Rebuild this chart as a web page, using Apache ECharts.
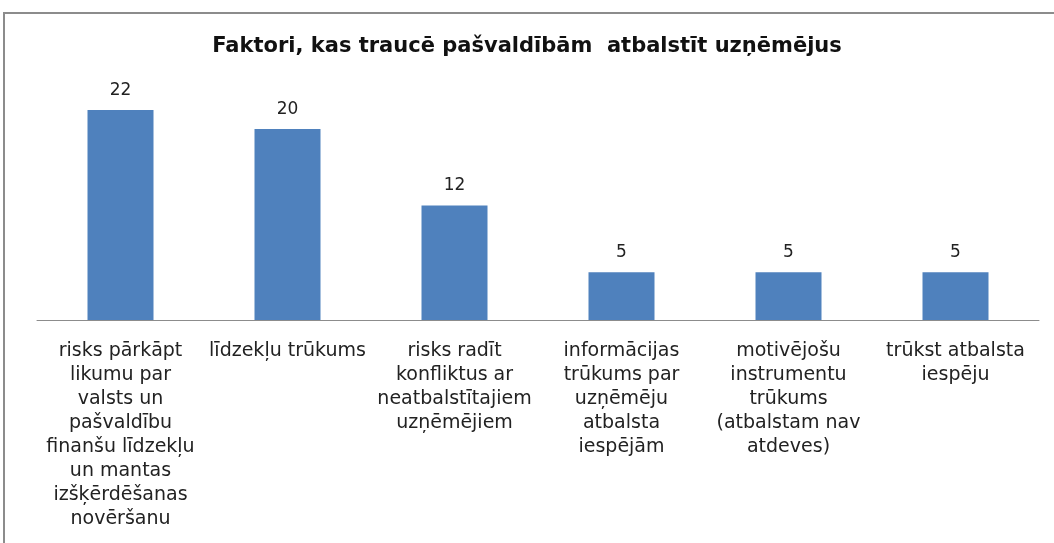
<!DOCTYPE html>
<html>
<head>
<meta charset="utf-8">
<script src="https://cdn.jsdelivr.net/npm/echarts@6/dist/echarts.min.js"></script>
<style>
  html, body { margin: 0; padding: 0; background: #fff; }
  #chart { width: 1054px; height: 543px; }
</style>
</head>
<body>
<div id="chart"></div>
<script>
const titleText = 'Faktori, kas traucē pašvaldībām  atbalstīt uzņēmējus'
const categories = [
    'risks pārkāpt\nlikumu par\nvalsts un\npašvaldību\nfinanšu līdzekļu\nun mantas\nizšķērdēšanas\nnovēršanu',
    'līdzekļu trūkums',
    'risks radīt\nkonfliktus ar\nneatbalstītajiem\nuzņēmējiem',
    'informācijas\ntrūkums par\nuzņēmēju\natbalsta\niespējām',
    'motivējošu\ninstrumentu\ntrūkums\n(atbalstam nav\natdeves)',
    'trūkst atbalsta\niespēju'
]
const values = [22, 20, 12, 5, 5, 5]

const font = '"DejaVu Sans", sans-serif'
const chart = echarts.init(document.getElementById('chart'))
chart.setOption({
    animation: false,
    title: {
        text: titleText,
        left: 'center',
        top: 31,
        textStyle: { fontFamily: font, fontSize: 21, fontWeight: 'bold', color: '#111' }
    },
    graphic: [{
        type: 'rect',
        shape: { x: 4, y: 13, width: 1070, height: 600 },
        style: { fill: 'none', stroke: '#8c8c8c', lineWidth: 2 },
        silent: true
    }],
    grid: { left: 37, right: 15, top: 81.4, height: 238.6 },
    xAxis: {
        type: 'category',
        data: categories,
        axisLine: { lineStyle: { color: '#8c8c8c', width: 1 } },
        axisTick: { show: false },
        axisLabel: {
            interval: 0,
            margin: 19,
            fontFamily: font,
            fontSize: 19,
            lineHeight: 24,
            color: '#222',
            align: 'center'
        }
    },
    yAxis: {
        type: 'value',
        min: 0,
        max: 25,
        show: false,
        splitLine: { show: false }
    },
    series: [{
        type: 'bar',
        data: values,
        barWidth: 66,
        itemStyle: { color: '#4f81bd' },
        label: {
            show: true,
            position: 'top',
            distance: 11,
            fontFamily: font,
            fontSize: 17,
            color: '#222'
        }
    }]
})
</script>
</body>
</html>
